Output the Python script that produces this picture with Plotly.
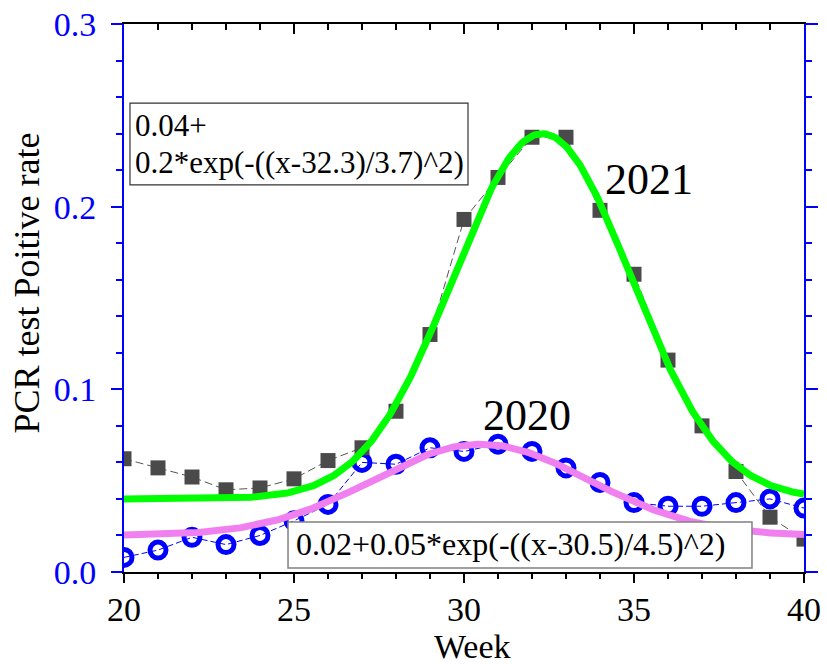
import numpy as np
import plotly.graph_objects as go

# ---- data ----
weeks = list(range(20, 41))
rate_2021 = [0.062, 0.057, 0.052, 0.045, 0.046, 0.051, 0.061, 0.068, 0.088, 0.130,
             0.193, 0.216, 0.238, 0.238, 0.198, 0.163, 0.116, 0.080, 0.055, 0.030, 0.018]
rate_2020 = [0.008, 0.012, 0.019, 0.015, 0.020, 0.028, 0.037, 0.060, 0.059, 0.068,
             0.066, 0.070, 0.066, 0.057, 0.049, 0.038, 0.036, 0.036, 0.038, 0.040, 0.035]
# Gaussian fit parameters shown in the chart: base, amplitude, centre, width
fit_2021 = [0.04, 0.2, 32.3, 3.7]
fit_2020 = [0.02, 0.05, 30.5, 4.5]
eq_2021 = ["0.04+", "0.2*exp(-((x-32.3)/3.7)^2)"]
eq_2020 = "0.02+0.05*exp(-((x-30.5)/4.5)^2)"
x_ticks = [20, 25, 30, 35, 40]
x_ticklabels = ["20", "25", "30", "35", "40"]
y_ticks = [0.0, 0.1, 0.2, 0.3]
y_ticklabels = ["0.0", "0.1", "0.2", "0.3"]

xf = np.linspace(20, 40, 401)
def gauss(p, x):
    return p[0] + p[1] * np.exp(-((x - p[2]) / p[3]) ** 2)

FONT = "Liberation Serif"
TICKFONT = "Times New Roman"
BLUE = "#0000ff"

fig = go.Figure()
fig.add_trace(go.Scatter(x=weeks, y=rate_2020, mode="lines+markers",
                         line=dict(color=BLUE, width=1, dash="6px,3px"),
                         marker=dict(symbol="circle-open", size=16, color=BLUE,
                                     line=dict(width=5, color=BLUE)),
                         showlegend=False, hoverinfo="skip"))
fig.add_trace(go.Scatter(x=weeks, y=rate_2021, mode="lines+markers",
                         line=dict(color="#555555", width=1, dash="8px,4px"),
                         marker=dict(symbol="square", size=15, color="#4a4a4a",
                                     line=dict(width=0)),
                         showlegend=False, hoverinfo="skip"))
fig.add_trace(go.Scatter(x=xf, y=gauss(fit_2021, xf), mode="lines",
                         line=dict(color="#00ff00", width=7),
                         showlegend=False, hoverinfo="skip"))
fig.add_trace(go.Scatter(x=xf, y=gauss(fit_2020, xf), mode="lines",
                         line=dict(color="#f080f0", width=7),
                         showlegend=False, hoverinfo="skip"))
# invisible trace to activate the mirrored top/right axes
fig.add_trace(go.Scatter(x=weeks, y=rate_2020, mode="lines", xaxis="x2", yaxis="y2",
                         line=dict(width=0, color="rgba(0,0,0,0)"),
                         showlegend=False, hoverinfo="skip"))

common_x = dict(range=[20, 40], showgrid=False, zeroline=False, showline=True,
                linecolor="black", linewidth=2, tickcolor="black", tickwidth=2,
                tickvals=x_ticks, ticktext=x_ticklabels, fixedrange=True, automargin=False)
common_y = dict(range=[0, 0.3], showgrid=False, zeroline=False, showline=True,
                linecolor=BLUE, linewidth=2, tickcolor=BLUE, tickwidth=2,
                tickvals=y_ticks, ticktext=y_ticklabels, fixedrange=True, automargin=False)

fig.update_layout(
    template="none",
    width=827, height=664,
    margin=dict(l=124, r=23, t=24, b=92, autoexpand=False),
    paper_bgcolor="white", plot_bgcolor="white",
    font=dict(family=FONT, color="black"),
    xaxis=dict(**common_x, ticks="outside", ticklen=9, ticklabelstandoff=-3,
               tickfont=dict(size=34, family=TICKFONT, color="black"),
               minor=dict(dtick=1, ticks="outside", ticklen=5, tickcolor="black", tickwidth=2)),
    xaxis2=dict(**common_x, overlaying="x", side="top", ticks="inside", ticklen=10,
                showticklabels=False,
                minor=dict(dtick=1, ticks="inside", ticklen=6, tickcolor="black", tickwidth=2)),
    yaxis=dict(**common_y, ticks="outside", ticklen=11, ticklabelstandoff=8,
               tickfont=dict(size=34, family=TICKFONT, color=BLUE),
               minor=dict(dtick=0.02, ticks="outside", ticklen=6, tickcolor=BLUE, tickwidth=2)),
    yaxis2=dict(**common_y, overlaying="y", side="right", ticks="outside", ticklen=12,
                showticklabels=False, anchor="x2",
                minor=dict(dtick=0.02, ticks="outside", ticklen=6, tickcolor=BLUE, tickwidth=2)),
)

# equation boxes
fig.add_shape(type="rect", xref="x", yref="y", x0=20.176, x1=30.118, y0=0.2119, y1=0.2567,
              line=dict(color="#333333", width=1.2), fillcolor="white", layer="above")
fig.add_shape(type="rect", xref="x", yref="y", x0=24.824, x1=38.47, y0=0.0022, y1=0.0274,
              line=dict(color="#808080", width=1.5), fillcolor="white", layer="above")

ann = []
ann.append(dict(x=20.265, y=0.2444, xref="x", yref="y", text=eq_2021[0], showarrow=False,
                xanchor="left", yanchor="middle", font=dict(size=31, family=FONT, color="black")))
ann.append(dict(x=20.265, y=0.2242, xref="x", yref="y", text=eq_2021[1], showarrow=False,
                xanchor="left", yanchor="middle", font=dict(size=31, family=FONT, color="black")))
ann.append(dict(x=25.0, y=0.0152, xref="x", yref="y", text=eq_2020, showarrow=False,
                xanchor="left", yanchor="middle", font=dict(size=32, family=FONT, color="black")))
ann.append(dict(x=31.853, y=0.0859, xref="x", yref="y", text="2020", showarrow=False,
                xanchor="center", yanchor="middle", font=dict(size=44, family=FONT, color="black")))
ann.append(dict(x=35.441, y=0.2151, xref="x", yref="y", text="2021", showarrow=False,
                xanchor="center", yanchor="middle", font=dict(size=44, family=FONT, color="black")))
# axis titles
ann.append(dict(x=-0.1412, y=0.5283, xref="paper", yref="paper", text="PCR test Poitive rate",
                showarrow=False, textangle=-90, xanchor="center", yanchor="middle",
                font=dict(size=36, family=FONT, color="black")))
ann.append(dict(x=0.5132, y=0, xref="paper", yref="paper", text="Week",
                showarrow=False, xanchor="center", yanchor="middle", yshift=-74,
                font=dict(size=34, family=FONT, color="black")))
fig.update_layout(annotations=ann)

fig.write_html("out.html")
